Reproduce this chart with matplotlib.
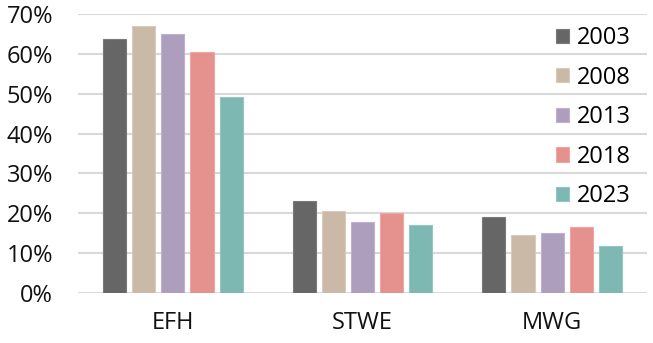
import matplotlib.pyplot as plt
import numpy as np

# housing types and survey years
categories = ["EFH", "STWE", "MWG"]
years = ["2003", "2008", "2013", "2018", "2023"]

# share per housing type, in percent
share_2003 = [63.8, 23.2, 19.1]
share_2008 = [67.0, 20.6, 14.6]
share_2013 = [65.1, 17.9, 15.1]
share_2018 = [60.5, 20.1, 16.6]
share_2023 = [49.1, 17.1, 11.7]

series = [share_2003, share_2008, share_2013, share_2018, share_2023]
colors = ["#666666", "#cbb9a8", "#ae9ebd", "#e5918d", "#7db8b2"]
edges = ["#7a7a7a", "#d8cabd", "#bfb1cc", "#eea7a3", "#95c6c1"]

yticks = np.arange(0, 71, 10)

plt.rcParams["font.family"] = ["Open Sans", "DejaVu Sans"]

fig = plt.figure(figsize=(6.53, 3.43), dpi=100)
ax = fig.add_axes([78 / 653, 50 / 343, 569 / 653, 279 / 343])

x = np.arange(len(categories))
step = 0.154
width = 0.122
for i, (vals, c, e) in enumerate(zip(series, colors, edges)):
    ax.bar(x + (i - 2) * step, vals, width, color=c, edgecolor=e,
           linewidth=0.8, label=years[i], zorder=3)

ax.set_xlim(-0.5, 2.5)
ax.set_ylim(0, 70)
ax.set_yticks(yticks)
ax.set_yticklabels([f"{t}%" for t in yticks])
ax.set_xticks(x)
ax.set_xticklabels(categories)
ax.tick_params(axis="y", length=0, pad=18, labelsize=17, colors="#111111")
ax.tick_params(axis="x", length=0, pad=13, labelsize=17, colors="#111111")

ax.grid(axis="y", color="#d9d9d9", linewidth=1.5, zorder=0)
for s in ax.spines.values():
    s.set_visible(False)

ax.legend(loc="upper left", bbox_to_anchor=(556 / 653, 1 - 26 / 343),
          bbox_transform=fig.transFigure, frameon=False, fontsize=17,
          handlelength=0.55, handleheight=0.55, handletextpad=0.35,
          labelspacing=0.66, borderpad=0, borderaxespad=0)

fig.savefig("out.png", dpi=100, facecolor="white")
